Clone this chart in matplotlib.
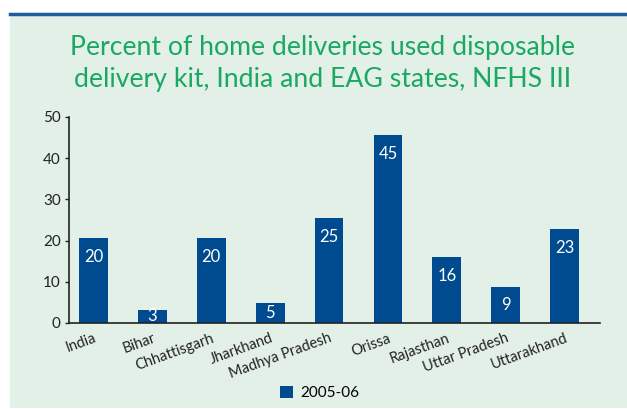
import matplotlib
matplotlib.use("Agg")
import matplotlib.pyplot as plt
from matplotlib.patches import Rectangle
from matplotlib.lines import Line2D

# Données
etats = ["India", "Bihar", "Chhattisgarh", "Jharkhand", "Madhya Pradesh",
         "Orissa", "Rajasthan", "Uttar Pradesh", "Uttarakhand"]
valeurs = [20.6, 3.2, 20.6, 4.9, 25.5, 45.6, 16.0, 8.7, 22.8]
etiquettes = ["20", "3", "20", "5", "25", "45", "16", "9", "23"]
serie = "2005-06"

bleu = "#004a8f"
vert_titre = "#1aa862"
fond = "#e3f0e7"

plt.rcParams['font.family'] = ['Lato', 'DejaVu Sans']

fig = plt.figure(figsize=(6.27, 4.09), dpi=100)

# fond vert + ligne bleue en haut
fig.patches.append(Rectangle((10 / 627, 1 / 409), 617 / 627, 394 / 409,
                             transform=fig.transFigure, facecolor=fond,
                             edgecolor="none", zorder=-10))
fig.lines.append(Line2D([10 / 627, 1], [1 - 14 / 409, 1 - 14 / 409],
                        transform=fig.transFigure, color="#1d5c9e", lw=2.5))

fig.text(0.514, 1 - 47 / 409, "Percent of home deliveries used disposable",
         ha="center", va="center", fontsize=19.2, color=vert_titre)
fig.text(0.514, 1 - 80 / 409, "delivery kit, India and EAG states, NFHS III",
         ha="center", va="center", fontsize=19.2, color=vert_titre)

ax = fig.add_axes([69 / 627, 86 / 409, 531 / 627, 206 / 409])
ax.set_facecolor("none")
x = range(len(etats))
barres = ax.bar(x, valeurs, width=0.49, color=bleu, label=serie)

# étiquettes blanches : ~19 px sous le haut, ou au milieu si la barre est trop courte
for xi, v, lab in zip(x, valeurs, etiquettes):
    y = max(v - 4.7, v / 2)
    ax.text(xi, y, lab, ha="center", va="center", color="white", fontsize=12)

ax.set_xlim(-0.415, 8.6)
ax.set_ylim(0, 50)
ax.set_yticks([0, 10, 20, 30, 40, 50])
ax.set_xticks(list(x))
ax.set_xticklabels(etats, rotation=20, ha="right", rotation_mode="anchor",
                   fontsize=10.5, color="#222222")
ax.tick_params(axis="x", length=0, pad=6)
ax.tick_params(axis="y", length=3, width=1, labelsize=11, colors="#222222", pad=3)
for s in ["top", "right"]:
    ax.spines[s].set_visible(False)
for s in ["left", "bottom"]:
    ax.spines[s].set_color("#222222")
    ax.spines[s].set_linewidth(1.2)

fig.legend(handles=[barres], labels=[serie], loc="center", bbox_to_anchor=(0.51, 1 - 393 / 409),
           frameon=False, fontsize=11, handlelength=0.8, handleheight=0.8, handletextpad=0.5)

fig.savefig("out.png", dpi=100)
